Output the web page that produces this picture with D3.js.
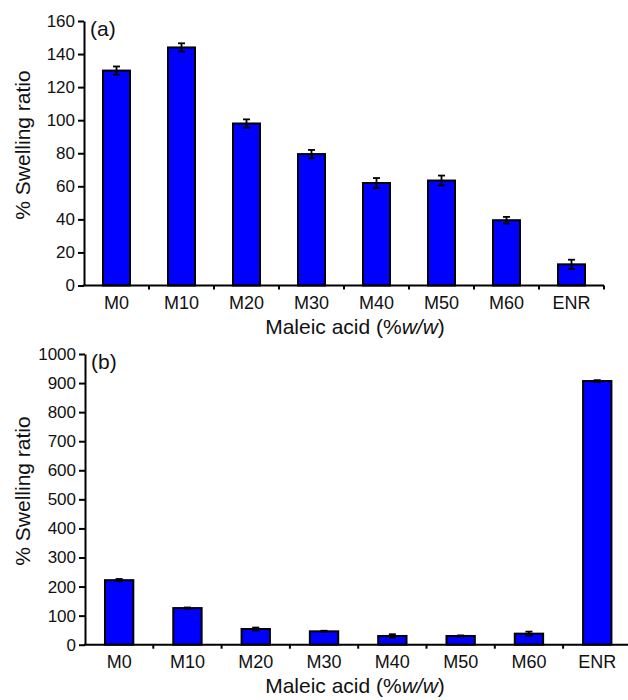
<!DOCTYPE html>
<html><head><meta charset="utf-8">
<script src="https://cdn.jsdelivr.net/npm/d3@7/dist/d3.min.js"></script>
<style>html,body{margin:0;padding:0;background:#fff}svg{display:block}</style>
</head><body>
<svg id="c" width="628" height="700"></svg>
<script>
const categories = ["M0","M10","M20","M30","M40","M50","M60","ENR"];
const valuesA = [130, 144, 98, 79.5, 62, 63.5, 39.5, 12.8];
const errorsA = [2.5, 2.5, 2.5, 2.5, 3, 3, 2, 2.8];
const ticksA = [0,20,40,60,80,100,120,140,160];
const valuesB = [222, 126, 54, 46, 30, 30, 38, 907];
const errorsB = [4, 2, 5, 2, 6, 2, 7, 3];
const ticksB = [0,100,200,300,400,500,600,700,800,900,1000];
const xTitle = ["Maleic acid (%", "w/w", ")"];
const yTitle = "% Swelling ratio";

const FONT = "'Liberation Sans', Arial, Helvetica, sans-serif";
const svg = d3.select("#c");

function panel(cfg) {
  const g = svg.append("g");
  const x = d3.scaleBand().domain(categories).range([cfg.x0, cfg.x1]).paddingInner(0).paddingOuter(0);
  const y = d3.scaleLinear().domain([0, cfg.max]).range([cfg.y0, cfg.y1]);
  const bw = x.bandwidth() * 0.415;

  // bars
  g.selectAll("rect.bar").data(cfg.values).join("rect")
    .attr("x", (d, i) => x(categories[i]) + x.bandwidth() / 2 - bw / 2)
    .attr("y", d => y(d))
    .attr("width", bw)
    .attr("height", d => y(0) - y(d))
    .attr("fill", "#0000ff")
    .attr("stroke", "#000")
    .attr("stroke-width", 2);

  // error bars
  const eg = g.append("g").attr("stroke", "#000").attr("stroke-width", 1.8);
  cfg.values.forEach((v, i) => {
    const cx = x(categories[i]) + x.bandwidth() / 2;
    const e = cfg.errors[i];
    eg.append("line").attr("x1", cx).attr("x2", cx).attr("y1", y(v + e)).attr("y2", y(v - e));
    eg.append("line").attr("x1", cx - 3.5).attr("x2", cx + 3.5).attr("y1", y(v + e)).attr("y2", y(v + e));
    eg.append("line").attr("x1", cx - 3.5).attr("x2", cx + 3.5).attr("y1", y(v - e)).attr("y2", y(v - e));
  });

  // y axis
  const ya = g.append("g").attr("transform", `translate(${cfg.x0},0)`)
    .call(d3.axisLeft(y).tickValues(cfg.ticks).tickSize(6).tickPadding(3).tickSizeOuter(0).tickFormat(d3.format("d")));
  ya.select(".domain").attr("stroke", "#000").attr("stroke-width", 2);
  ya.selectAll(".tick line").attr("stroke", "#000").attr("stroke-width", 2);
  ya.selectAll(".tick text").attr("font-family", FONT).attr("font-size", 17).attr("fill", "#111");

  // x axis line
  g.append("line").attr("x1", cfg.x0 - 1).attr("x2", cfg.x1).attr("y1", y(0)).attr("y2", y(0))
    .attr("stroke", "#000").attr("stroke-width", 2);
  // x ticks at band boundaries
  categories.forEach((c, i) => {
    const bx = i < categories.length - 1 ? x(categories[i + 1]) : x.range()[1];
    g.append("line").attr("x1", bx).attr("x2", bx).attr("y1", y(0)).attr("y2", y(0) + 4)
      .attr("stroke", "#000").attr("stroke-width", 2);
  });
  // category labels
  g.selectAll("text.cat").data(categories).join("text")
    .attr("x", d => x(d) + x.bandwidth() / 2)
    .attr("y", y(0) + 23)
    .attr("text-anchor", "middle")
    .attr("font-family", FONT).attr("font-size", 18).attr("fill", "#111")
    .text(d => d);

  // x title
  const xt = g.append("text")
    .attr("x", cfg.xTitleX).attr("y", y(0) + 48)
    .attr("text-anchor", "middle")
    .attr("font-family", FONT).attr("font-size", 21).attr("fill", "#111");
  xt.append("tspan").text(xTitle[0]);
  xt.append("tspan").attr("font-style", "italic").text(xTitle[1]);
  xt.append("tspan").text(xTitle[2]);

  // y title
  g.append("text")
    .attr("transform", `translate(30,${cfg.yTitleY}) rotate(-90)`)
    .attr("text-anchor", "middle")
    .attr("font-family", FONT).attr("font-size", 21).attr("fill", "#111")
    .text(yTitle);

  // panel label
  g.append("text").attr("x", cfg.x0 + 6).attr("y", cfg.y1 + 15)
    .attr("font-family", FONT).attr("font-size", 21).attr("fill", "#111")
    .text(cfg.label);
}

panel({x0: 84, x1: 604, y0: 285.5, y1: 21, max: 160, values: valuesA, errors: errorsA, ticks: ticksA,
       label: "(a)", xTitleX: 355, yTitleY: 145});
panel({x0: 85, x1: 631.4, y0: 644.7, y1: 354, max: 1000, values: valuesB, errors: errorsB, ticks: ticksB,
       label: "(b)", xTitleX: 355, yTitleY: 491});
</script>
</body></html>
